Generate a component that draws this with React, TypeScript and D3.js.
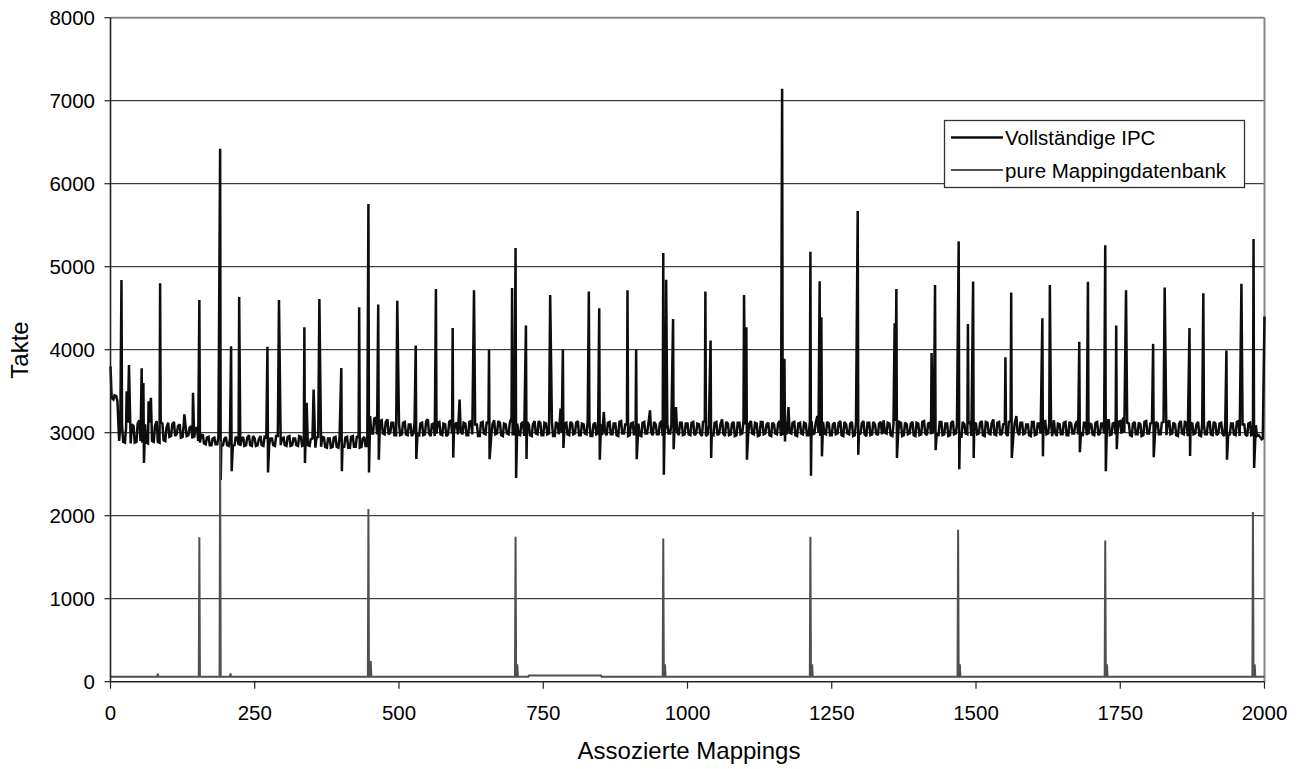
import React from "react";
import * as d3 from "d3";

// ---- Data ----
const xTicks = [0, 250, 500, 750, 1000, 1250, 1500, 1750, 2000];
const yTicks = [0, 1000, 2000, 3000, 4000, 5000, 6000, 7000, 8000];
const seriesNames = ["Vollständige IPC", "pure Mappingdatenbank"];

// Vollständige IPC: baseline readings every 5 mappings (idx 0, 5, ..., 2000)
const ipcStep = 5;
const ipcBase = [
  3800,3400,3440,2900,3100,2880,3120,2870,3080,2890,3150,2880,3100,2870,3120,2890,3140,2880,3110,2900,
  3120,2960,3130,2990,3100,2950,3090,2970,3080,2940,3060,2880,2980,2860,2950,2850,2940,2860,2960,2850,
  2950,2840,2960,2850,2930,2840,2950,2850,2970,2840,2930,2850,2960,2840,2940,2850,2930,2840,2960,2850,
  2940,2840,2960,2850,2930,2840,2950,2850,2970,2840,2930,2820,2950,2830,2940,2820,2930,2830,2950,2820,
  2940,2830,2950,2820,2960,2830,2940,2830,2950,2840,3200,2990,3180,3000,3150,2980,3160,3000,3120,2970,
  3110,2980,3130,2970,3100,2990,3140,2970,3120,2980,3160,2960,3110,2990,3130,2970,3100,2980,3150,2970,
  3120,3400,2980,3110,2970,3140,2990,3100,2960,3130,2980,3110,2970,3150,2990,3120,2960,3100,2980,3180,
  2980,3110,2970,3130,2990,3100,2960,3140,2980,3120,2970,3110,2990,3130,2960,3100,3290,2980,3120,2970,
  3110,2990,3140,2970,3100,2980,3130,2960,3120,2990,3100,3250,2970,3130,2980,3110,2960,3140,2990,3100,
  2970,3120,2980,3110,2960,3130,2990,3270,2970,3100,2980,3140,2960,3110,2990,3130,3310,2970,3120,2980,
  3110,2970,3130,2990,3100,2960,3140,2980,3110,2970,3130,2990,3160,2960,3110,2980,3130,2970,3120,2990,
  3100,2960,3140,2980,3110,2970,3130,2990,3120,2960,3100,2980,3140,2970,3110,3310,2990,3130,2960,3120,
  2980,3110,2970,3140,2990,3200,2960,3130,2980,3110,2970,3120,2990,3140,2960,3100,2980,3130,2970,3110,
  2990,3140,2960,3120,2980,3100,2970,3130,3150,2990,3110,2960,3140,2980,3120,2970,3100,2990,3130,2960,
  3110,2980,3140,2970,3120,2990,3170,2960,3130,2980,3110,2970,3140,2990,3120,2960,3100,2980,3130,2970,
  3110,2990,3140,2960,3120,2980,3160,2970,3130,2990,3110,2960,3140,2980,3200,2970,3120,2990,3100,2960,
  3130,2980,3110,2970,3140,2990,3120,3150,2960,3100,2980,3130,2970,3110,2990,3140,3190,2960,3120,2980,
  3100,2970,3130,2990,3110,2960,3160,2980,3120,2970,3140,3180,2990,3110,2960,3130,2980,3100,2970,3140,
  2990,3120,2960,3110,2980,3130,2970,3150,2990,3100,2960,3140,2980,3120,2970,3110,2990,3130,2960,3100,
  2980,3140,2970,3110,2990,3120,2960,3130,2980,3110,2970,3140,2990,3100,2960,3120,2980,3090,2970,2920,
  2930,
];
// Vollständige IPC: in-between readings (idx 2, 7, ..., 1997)
const ipcMidOffset = 2;
const ipcMid = [
  3420,3450,3380,3080,2890,3060,2900,3100,2880,3110,2900,3090,2880,3120,2900,3080,2890,3130,2910,3060,
  2950,3100,2960,3080,2940,3110,2960,3060,2930,3050,2900,2960,2870,2940,2850,2930,2860,2950,2850,2920,
  2850,2930,2840,2950,2850,2920,2840,2940,2850,2960,2840,2920,2850,2950,2840,2930,2850,2960,2840,2930,
  2850,2950,2840,2930,2850,2960,2840,2940,2850,2920,2830,2940,2820,2950,2830,2930,2820,2940,2830,2950,
  2830,2940,2820,2950,2830,2960,2820,2930,2840,3000,2990,3170,2980,3140,2990,3130,2980,3120,2970,3110,
  2970,3120,2980,3100,2960,3130,2980,3110,2970,3140,2990,3100,2960,3120,2980,3110,2960,3130,2990,3100,
  2980,3010,3120,2970,3130,2980,3100,2960,3120,2990,3130,2970,3100,2980,3140,2970,3110,2990,3120,2980,
  3120,2980,3110,2960,3130,2970,3100,2990,3140,2970,3120,2980,3110,2960,3130,2980,3000,3110,2980,3130,
  2980,3120,2970,3110,2990,3140,2960,3100,2980,3130,2970,3000,3120,2980,3110,2970,3130,2990,3100,2960,
  3110,2980,3130,2970,3120,2990,3100,3000,3130,2980,3110,2960,3120,2990,3100,2980,3010,3120,2970,3110,
  2980,3120,2970,3110,2990,3130,2960,3100,2980,3120,2970,3100,2990,3130,2970,3110,2960,3120,2980,3140,
  2970,3110,2990,3120,2960,3130,2980,3100,2970,3120,2990,3110,2960,3130,2980,3000,3120,2970,3110,2990,
  3120,2970,3130,2980,3110,3000,3120,2990,3130,2970,3100,2980,3120,2970,3130,2990,3110,2960,3120,2980,
  3110,2980,3120,2970,3130,2990,3110,2980,3000,3120,2970,3110,2990,3130,2960,3120,2980,3110,2970,3120,
  2970,3130,2990,3110,2980,3120,2990,3130,2970,3110,2960,3120,2980,3100,2970,3130,2990,3110,2960,3120,
  2980,3120,2970,3130,2990,3110,2980,3120,2970,3100,2990,3130,2960,3110,3010,3120,2980,3100,2970,3130,
  2970,3110,2990,3130,2980,3120,2960,3000,3110,2980,3120,2970,3130,2990,3100,2980,3010,3120,2970,3110,
  2980,3120,2970,3110,2990,3130,2970,3110,2980,3130,2990,3000,3120,2970,3110,2980,3120,2960,3130,2990,
  3110,2970,3130,2980,3120,2990,3110,2980,3120,2970,3110,2990,3130,2960,3120,2980,3100,2970,3110,2980,
  3120,2980,3130,2970,3110,2990,3120,2970,3110,2980,3130,2960,3100,2980,3110,2970,3080,2960,2950,2930,
];

// Vollständige IPC: spikes [mapping, Takte]
const ipcSpikes: [number, number][] = [
  [19,4840],[28,3500],[32,3815],[54,3775],[57,3600],[66,3380],[70,3420],[86,4800],[128,3220],[143,3480],
  [154,4600],[190,6420],[209,4040],[223,4635],[272,4035],[292,4600],[336,4270],[340,3360],[352,3520],[362,4610],
  [400,3780],[431,4510],[447,5755],[464,4545],[497,4590],[529,4050],[564,4730],[593,4260],[630,4715],[656,4000],
  [696,4743],[702,5225],[720,4290],[762,4660],[784,4000],[829,4700],[847,4500],[896,4715],[911,4000],[958,5165],
  [963,4843],[975,4370],[1031,4700],[1040,4110],[1098,4660],[1102,4270],[1164,7145],[1168,3890],[1213,5180],[1229,4825],
  [1232,4390],[1295,5670],[1359,4320],[1362,4730],[1423,3960],[1429,4780],[1470,5305],[1486,4310],[1495,4823],[1551,3910],
  [1561,4690],[1615,4380],[1628,4780],[1679,4095],[1694,4820],[1724,5257],[1743,4290],[1760,4715],[1807,4070],[1827,4750],
  [1870,4260],[1894,4680],[1934,3990],[1960,4795],[1981,5333],[2000,4400],
];

// Vollständige IPC: dips [mapping, Takte]
const ipcDips: [number, number][] = [
  [58,2635],[191,2430],[210,2535],[273,2522],[337,2635],[401,2535],[448,2520],[465,2675],[530,2683],[594,2700],
  [657,2680],[703,2455],[721,2683],[785,2815],[848,2675],[912,2680],[959,2494],[976,2800],[1041,2695],[1103,2675],
  [1169,2895],[1214,2482],[1233,2715],[1296,2735],[1363,2695],[1430,2790],[1471,2560],[1496,2695],[1562,2695],[1616,2715],
  [1680,2765],[1725,2535],[1744,2800],[1808,2705],[1871,2720],[1935,2675],[1982,2575],
];

// pure Mappingdatenbank: flat levels [from, to, Takte]
const mapLevels: [number, number, number][] = [
  [0, 724, 60],
  [725, 850, 75],
  [851, 2000, 60],
];
// pure Mappingdatenbank: peaks [mapping, Takte]
const mapSpikes: [number, number][] = [
  [82,95],[154,1740],[190,2900],[208,100],[447,2080],[451,250],[702,1745],[705,210],[958,1725],[961,210],
  [1213,1745],[1216,210],[1469,1830],[1472,210],[1724,1700],[1727,210],[1980,2045],[1983,210],
];

// ---- Build series ----
function buildIpc(): [number, number][] {
  const m = new Map<number, number>();
  ipcBase.forEach((v, i) => m.set(i * ipcStep, v));
  ipcMid.forEach((v, i) => m.set(i * ipcStep + ipcMidOffset, v));
  ipcSpikes.forEach(([i, v]) => m.set(i, v));
  ipcDips.forEach(([i, v]) => m.set(i, v));
  return Array.from(m.entries()).sort((a, b) => a[0] - b[0]);
}
function levelAt(i: number): number {
  for (const [a, b, v] of mapLevels) if (i >= a && i <= b) return v;
  return mapLevels[mapLevels.length - 1][2];
}
function buildMap(): [number, number][] {
  const m = new Map<number, number>();
  mapLevels.forEach(([a, b, v]) => { m.set(a, v); m.set(b, v); });
  mapSpikes.forEach(([i]) => {
    if (!m.has(i - 1)) m.set(i - 1, levelAt(i - 1));
    if (!m.has(i + 1)) m.set(i + 1, levelAt(i + 1));
  });
  mapSpikes.forEach(([i, v]) => m.set(i, v));
  return Array.from(m.entries()).sort((a, b) => a[0] - b[0]);
}

const W = 1300, H = 769;
const FONT = "'Liberation Sans', Arial, Helvetica, sans-serif";

export default function App() {
  const x = d3.scaleLinear().domain([0, 2000]).range([110.5, 1264.5]);
  const y = d3.scaleLinear().domain([0, 8000]).range([681.7, 17.7]);
  const line = d3.line<[number, number]>().x(d => x(d[0])).y(d => y(d[1]));
  const ipc = buildIpc();
  const map = buildMap();
  const x0 = x(0), x1 = x(2000), y0 = y(0), yTop = y(8000);

  const lg = { x: 944.5, y: 120.5, w: 300, h: 67 };

  return (
    <svg width={W} height={H} style={{ position: "absolute", left: 0, top: 0, background: "#fff" }} fontFamily={FONT}>
      <rect x={0} y={0} width={W} height={H} fill="#fff" />
      {/* grid */}
      {yTicks.filter(t => t > 0 && t < 8000).map(t => (
        <line key={t} x1={x0} x2={x1} y1={y(t)} y2={y(t)} stroke="#111" strokeWidth={1} />
      ))}
      {/* frame top/right */}
      <line x1={x0} x2={x1} y1={yTop} y2={yTop} stroke="#888" strokeWidth={2} />
      <line x1={x1} x2={x1} y1={yTop} y2={y0} stroke="#888" strokeWidth={2} />
      {/* series */}
      <path d={line(ipc) || ""} fill="none" stroke="#0d0d0d" strokeWidth={2.5} strokeLinejoin="miter" strokeMiterlimit={2} />
      <path d={line(map) || ""} fill="none" stroke="#505050" strokeWidth={2} strokeLinejoin="miter" strokeMiterlimit={2} />
      {/* axes */}
      <line x1={x0} x2={x0} y1={yTop} y2={y0} stroke="#222" strokeWidth={1.6} />
      <line x1={x0} x2={x1} y1={y0} y2={y0} stroke="#222" strokeWidth={1.6} />
      {yTicks.map(t => (
        <g key={t}>
          <line x1={x0 - 6} x2={x0} y1={y(t)} y2={y(t)} stroke="#222" strokeWidth={1.2} />
          <text x={95} y={y(t) + 7.3} textAnchor="end" fontSize={20.5} fill="#000">{t}</text>
        </g>
      ))}
      {xTicks.map(t => (
        <g key={t}>
          <line x1={x(t)} x2={x(t)} y1={y0} y2={y0 + 7} stroke="#222" strokeWidth={1.2} />
          <text x={x(t)} y={719.5} textAnchor="middle" fontSize={20.5} fill="#000">{t}</text>
        </g>
      ))}
      {/* axis titles */}
      <text x={689} y={759} textAnchor="middle" fontSize={24} fill="#000">Assozierte Mappings</text>
      <text transform={`translate(28,350) rotate(-90)`} textAnchor="middle" fontSize={24} fill="#000">Takte</text>
      {/* legend */}
      <rect x={lg.x} y={lg.y} width={lg.w} height={lg.h} fill="#fff" stroke="#333" strokeWidth={1.3} />
      <line x1={951} x2={1003} y1={137.5} y2={137.5} stroke="#0d0d0d" strokeWidth={2.5} />
      <line x1={951} x2={1003} y1={170} y2={170} stroke="#505050" strokeWidth={2} />
      <text x={1005} y={145} fontSize={20.5} fill="#000">{seriesNames[0]}</text>
      <text x={1005} y={177.5} fontSize={20.5} fill="#000">{seriesNames[1]}</text>
    </svg>
  );
}
